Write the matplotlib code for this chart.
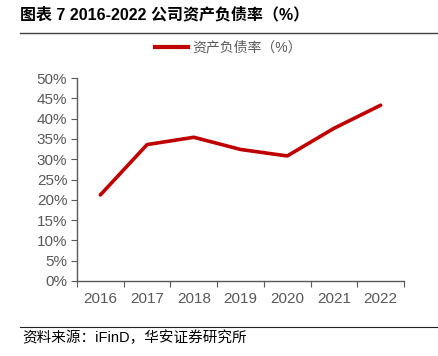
import numpy as np
import matplotlib
matplotlib.use("Agg")
import matplotlib.pyplot as plt
from matplotlib.lines import Line2D
from matplotlib.ticker import FixedLocator, PercentFormatter

plt.rcParams['font.family'] = ['Liberation Sans', 'Noto Sans CJK SC', 'DejaVu Sans']

# 数据
years = ['2016', '2017', '2018', '2019', '2020', '2021', '2022']
debt_ratio = [21.2, 33.6, 35.4, 32.4, 30.8, 37.6, 43.3]

title = '图表 7 2016-2022 公司资产负债率（%）'
series_name = '资产负债率（%）'
source = '资料来源：iFinD，华安证券研究所'

red = '#C00000'
gray = '#595959'

fig = plt.figure(figsize=(4.39, 3.56), dpi=100)
ax = fig.add_axes([77/439, 1 - 281/356, 327/439, 203/356])

x = np.arange(len(years))
ax.plot(x, debt_ratio, color=red, linewidth=2.6, solid_capstyle='round')

ax.set_xlim(-0.5, len(years) - 0.5)
ax.set_ylim(0, 50)
ax.set_yticks(np.arange(0, 51, 5))
ax.yaxis.set_major_formatter(PercentFormatter(decimals=0))

ax.xaxis.set_major_locator(FixedLocator(np.arange(-0.5, len(years), 1)))
ax.xaxis.set_minor_locator(FixedLocator(x))
ax.set_xticklabels([], minor=False)
ax.set_xticks(x, years, minor=True)
ax.tick_params(axis='x', which='minor', length=0, pad=8, labelsize=11, labelcolor=gray)
ax.tick_params(axis='x', which='major', length=4, color=gray)
ax.tick_params(axis='y', length=4, color=gray, labelsize=11, labelcolor=gray, pad=3)

for s in ['top', 'right']:
    ax.spines[s].set_visible(False)
for s in ['left', 'bottom']:
    ax.spines[s].set_color(gray)
    ax.spines[s].set_linewidth(1.0)

# 图例
fig.add_artist(Line2D([155/439, 188/439], [1 - 47/356, 1 - 47/356],
                      color=red, linewidth=3))
fig.text(192/439, 1 - 47/356, series_name, fontsize=10, color=gray,
         va='center', ha='left')

# 标题与分隔线
fig.text(20/439, 1 - 15/356, title, fontsize=11.5, fontweight='bold',
         color='black', va='center', ha='left')
fig.add_artist(Line2D([20/439, 1], [1 - 33/356, 1 - 33/356],
                      color='#404040', linewidth=1.0))

# 来源
fig.add_artist(Line2D([20/439, 1], [1 - 327/356, 1 - 327/356],
                      color='#202020', linewidth=0.8))
fig.text(22/439, 1 - 338/356, source, fontsize=10.5, color='black',
         va='center', ha='left')

fig.savefig('out.png', dpi=100)
